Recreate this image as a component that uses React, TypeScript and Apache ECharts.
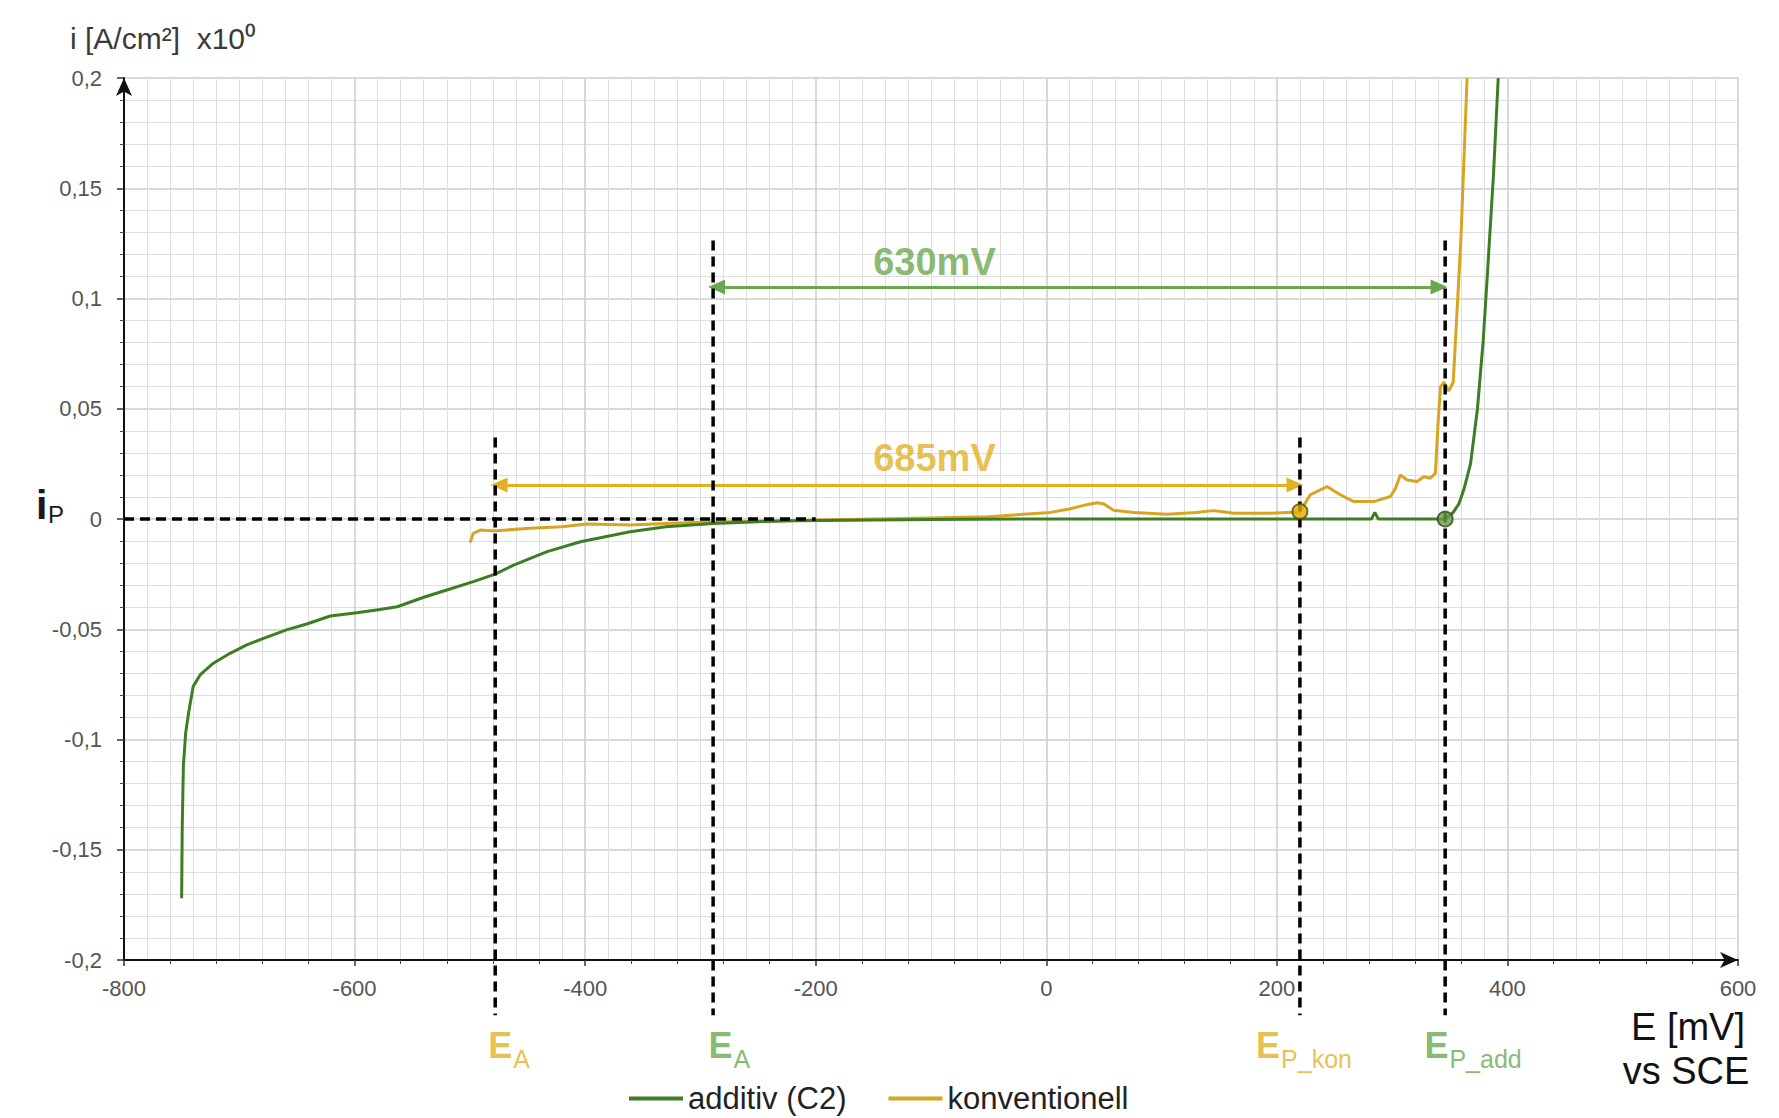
import React, { useEffect, useRef } from "react";
import * as echarts from "echarts";

// ---- data ----
// additiv (C2): potential E [mV] and current density i [A/cm²]
const addE = [-750, -749.5, -748.5, -746.5, -744, -740, -734, -722.5, -708, -693.5, -679, -659, -641.5, -621, -598, -578, -563, -540, -520, -497, -478, -462, -433, -404, -361, -330, -289, -250, -218, -150, -100, 0, 100, 200, 270, 282, 285, 288, 300, 340, 346, 353, 358, 362, 368, 374, 379, 382.5, 388, 392];
const addI = [-0.172, -0.14, -0.112, -0.097, -0.088, -0.076, -0.0707, -0.0654, -0.0609, -0.0571, -0.0541, -0.0503, -0.0476, -0.044, -0.0425, -0.041, -0.0398, -0.0355, -0.0322, -0.0284, -0.025, -0.0209, -0.0148, -0.0103, -0.0058, -0.0035, -0.002, -0.0012, -0.0008, -0.0004, -0.0002, 0, 0, 0, 0, 0, 0.003, 0, 0, 0, 0, 0.003, 0.007, 0.013, 0.025, 0.05, 0.081, 0.11, 0.157, 0.2];

// konventionell
const konE = [-499.8, -497, -491, -485, -476.6, -447.7, -420, -398.5, -361, -330, -300, -250, -200, -150, -100, -50, 3.5, 20, 35, 44, 50, 58.4, 75.8, 104.7, 130, 145, 155, 162.6, 191.5, 220, 229, 243.5, 255, 266.7, 284, 298.5, 303, 307, 313, 321.6, 327.4, 333, 337.5, 340, 342, 345, 349, 353, 359.6, 365];
const konI = [-0.0107, -0.0065, -0.005, -0.0052, -0.0053, -0.0042, -0.0035, -0.0023, -0.0027, -0.002, -0.0015, -0.001, -0.0005, 0, 0.0005, 0.001, 0.003, 0.0045, 0.0065, 0.0074, 0.0068, 0.004, 0.003, 0.0022, 0.003, 0.0038, 0.0032, 0.0026, 0.0026, 0.0032, 0.011, 0.0147, 0.011, 0.0079, 0.0079, 0.0102, 0.014, 0.02, 0.0177, 0.017, 0.0192, 0.0185, 0.0207, 0.045, 0.06, 0.062, 0.058, 0.062, 0.1265, 0.2];

// characteristic potentials [mV]
const EA_kon = -478;
const EA_add = -289;
const EP_kon = 220;
const EP_add = 346;
const ipKon = 0.0034;
const ipAdd = 0;

// dashed guide extents [i]
const guideTopKon = 0.037;
const guideTopAdd = 0.1263;
const guideBottom = -0.225;
const zeroLineEnd = -200;

// dimension arrows
const arrowAdd = { from: -286, to: 340.7, i: 0.1052, label: "630mV", labelE: -97, labelI: 0.1166 };
const arrowKon = { from: -474.6, to: 215.7, i: 0.0154, label: "685mV", labelE: -97, labelI: 0.0277 };

// potential labels below axis
const potLabels = [
  { main: "E", sub: "A", e: -484, kind: "kon" },
  { main: "E", sub: "A", e: -293, kind: "add" },
  { main: "E", sub: "P_kon", e: 182, kind: "kon" },
  { main: "E", sub: "P_add", e: 328, kind: "add" },
];
const potLabelI = -0.239;

const seriesNames = ["additiv (C2)", "konventionell"];

const FONT = "'Liberation Sans', Arial, Helvetica, sans-serif";
const GREEN = "#3f7d24";
const YELLOW = "#d8a421";
const GREEN_T = "#6aa84f";
const YELLOW_T = "#e2b025";

const fmtY = (v: number) => String(Math.round(v * 1000) / 1000).replace(".", ",");

export default function App() {
  const ref = useRef<HTMLDivElement>(null);

  useEffect(() => {
    document.body.style.margin = "0";
    const chart = echarts.init(ref.current!, null, { renderer: "svg" });

    const addData = addE.map((e, k) => [e, addI[k]]);
    const konData = konE.map((e, k) => [e, konI[k]]);

    const dashStyle = { color: "#000", width: 3.5, type: [10, 6] as any };
    const guide = (name: string, pts: number[][]) => ({
      name,
      type: "line",
      data: pts,
      clip: false,
      symbol: "none",
      silent: true,
      z: 6,
      lineStyle: dashStyle,
    });

    const arrow = (name: string, a: any, color: string) => ({
      name,
      type: "line",
      data: [],
      silent: true,
      markLine: {
        silent: true,
        symbol: ["triangle", "triangle"],
        symbolSize: [15, 17],
        label: { show: false },
        lineStyle: { color, width: 3, type: "solid" },
        data: [[{ coord: [a.from, a.i] }, { coord: [a.to, a.i] }]],
      },
    });

    const option: any = {
      animation: false,
      backgroundColor: "#fff",
      textStyle: { fontFamily: FONT },
      grid: { left: 124, right: 41, top: 78, bottom: 158, containLabel: false },
      legend: {
        left: 624,
        top: 1078,
        itemWidth: 54,
        itemHeight: 4,
        itemGap: 42,
        textStyle: { fontSize: 31, color: "#222", fontFamily: FONT },
        data: [
          { name: seriesNames[0], icon: "rect" },
          { name: seriesNames[1], icon: "rect" },
        ],
      },
      xAxis: [
        {
          type: "value",
          min: -800,
          max: 600,
          interval: 200,
          position: "bottom",
          axisLine: {
            show: true,
            onZero: false,
            symbol: ["none", "arrow"],
            symbolSize: [12, 18],
            lineStyle: { color: "#111", width: 2 },
          },
          axisTick: { show: true, length: 6, lineStyle: { color: "#333", width: 1.5 } },
          minorTick: { show: true, splitNumber: 5, length: 4, lineStyle: { color: "#444", width: 1 } },
          axisLabel: { margin: 17, fontSize: 22, color: "#555", fontFamily: FONT },
          splitLine: { show: true, lineStyle: { color: "#cdcdcd", width: 1.5 } },
          minorSplitLine: { show: false },
        },
        {
          type: "value",
          min: -800,
          max: 600,
          interval: 200,
          position: "top",
          axisLine: { show: false },
          axisTick: { show: false },
          axisLabel: { show: false },
          splitLine: { show: false },
          minorTick: { show: false, splitNumber: 10 },
          minorSplitLine: { show: true, lineStyle: { color: "#dedede", width: 1 } },
        },
      ],
      yAxis: {
        type: "value",
        min: -0.2,
        max: 0.2,
        interval: 0.05,
        axisLine: {
          show: true,
          onZero: false,
          symbol: ["none", "arrow"],
          symbolSize: [12, 18],
          lineStyle: { color: "#111", width: 2 },
        },
        axisTick: { show: true, length: 7, lineStyle: { color: "#333", width: 1.5 } },
        minorTick: { show: true, splitNumber: 5, length: 4, lineStyle: { color: "#444", width: 1 } },
        axisLabel: { margin: 22, fontSize: 22, color: "#555", fontFamily: FONT, formatter: fmtY },
        splitLine: { show: true, lineStyle: { color: "#cdcdcd", width: 1.5 } },
        minorSplitLine: { show: true, lineStyle: { color: "#dedede", width: 1 } },
      },
      graphic: [
        {
          type: "text",
          x: 70,
          y: 38,
          style: {
            text: "i [A/cm²]  x10⁰",
            font: `30px ${FONT}`,
            fill: "#3a3a3a",
            align: "left",
            verticalAlign: "middle",
            textAlign: "left",
            textVerticalAlign: "middle",
          },
        },
        {
          type: "text",
          x: 36,
          y: 505,
          style: {
            text: "i",
            font: `bold 41px ${FONT}`,
            fill: "#1a1a1a",
            align: "left",
            verticalAlign: "middle",
            textAlign: "left",
            textVerticalAlign: "middle",
          },
        },
        {
          type: "text",
          x: 48,
          y: 514,
          style: {
            text: "P",
            font: `24px ${FONT}`,
            fill: "#1a1a1a",
            align: "left",
            verticalAlign: "middle",
            textAlign: "left",
            textVerticalAlign: "middle",
          },
        },
        {
          type: "text",
          x: 1688,
          y: 1027,
          style: {
            text: "E [mV]",
            font: `38px ${FONT}`,
            fill: "#111",
            align: "center",
            verticalAlign: "middle",
            textAlign: "center",
            textVerticalAlign: "middle",
          },
        },
        {
          type: "text",
          x: 1686,
          y: 1071,
          style: {
            text: "vs SCE",
            font: `38px ${FONT}`,
            fill: "#111",
            align: "center",
            verticalAlign: "middle",
            textAlign: "center",
            textVerticalAlign: "middle",
          },
        },
      ],
      series: [
        {
          name: seriesNames[1],
          type: "line",
          data: konData,
          symbol: "none",
          showSymbol: false,
          z: 3,
          color: YELLOW,
          lineStyle: { color: YELLOW, width: 3 },
        },
        {
          name: seriesNames[0],
          type: "line",
          data: addData,
          symbol: "none",
          showSymbol: false,
          z: 4,
          color: GREEN,
          lineStyle: { color: GREEN, width: 3 },
        },
        guide("g-ea-kon", [[EA_kon, guideTopKon], [EA_kon, guideBottom]]),
        guide("g-ea-add", [[EA_add, guideTopAdd], [EA_add, guideBottom]]),
        guide("g-ep-kon", [[EP_kon, guideTopKon], [EP_kon, guideBottom]]),
        guide("g-ep-add", [[EP_add, guideTopAdd], [EP_add, guideBottom]]),
        guide("g-zero", [[-800, 0], [zeroLineEnd, 0]]),
        arrow("a-add", arrowAdd, GREEN_T),
        arrow("a-kon", arrowKon, YELLOW_T),
        {
          name: "ip-kon",
          type: "scatter",
          data: [[EP_kon, ipKon]],
          symbolSize: 15,
          z: 8,
          silent: true,
          itemStyle: { color: "#e0b000", borderColor: "#5b4800", borderWidth: 2 },
        },
        {
          name: "ip-add",
          type: "scatter",
          data: [[EP_add, ipAdd]],
          symbolSize: 15,
          z: 8,
          silent: true,
          itemStyle: { color: "#6b9d4c", borderColor: "#2c4a19", borderWidth: 2 },
        },
        {
          name: "dim-labels",
          type: "scatter",
          clip: false,
          symbolSize: 0,
          silent: true,
          z: 9,
          data: [
            {
              value: [arrowAdd.labelE, arrowAdd.labelI],
              label: { formatter: arrowAdd.label, color: GREEN_T },
            },
            {
              value: [arrowKon.labelE, arrowKon.labelI],
              label: { formatter: arrowKon.label, color: YELLOW_T },
            },
          ],
          label: {
            show: true,
            position: [0, 0],
            align: "center",
            verticalAlign: "middle",
            fontSize: 38,
            fontWeight: "bold",
            fontFamily: FONT,
          },
        },
        {
          name: "pot-main",
          type: "scatter",
          clip: false,
          symbolSize: 0,
          silent: true,
          z: 9,
          data: potLabels.map((p) => ({
            value: [p.e, potLabelI],
            label: { formatter: p.main, color: p.kind === "kon" ? YELLOW_T : GREEN_T },
          })),
          label: {
            show: true,
            position: [0, 0],
            align: "left",
            verticalAlign: "middle",
            fontSize: 36,
            fontWeight: "bold",
            fontFamily: FONT,
          },
        },
        {
          name: "pot-sub",
          type: "scatter",
          clip: false,
          symbolSize: 0,
          silent: true,
          z: 9,
          data: potLabels.map((p) => ({
            value: [p.e, potLabelI],
            label: { formatter: p.sub, color: p.kind === "kon" ? YELLOW_T : GREEN_T },
          })),
          label: {
            show: true,
            position: [0, 0],
            offset: [25, 13],
            align: "left",
            verticalAlign: "middle",
            fontSize: 25,
            fontFamily: FONT,
          },
        },
      ],
    };

    chart.setOption(option);
    return () => chart.dispose();
  }, []);

  return <div ref={ref} style={{ width: 1779, height: 1118 }} />;
}
